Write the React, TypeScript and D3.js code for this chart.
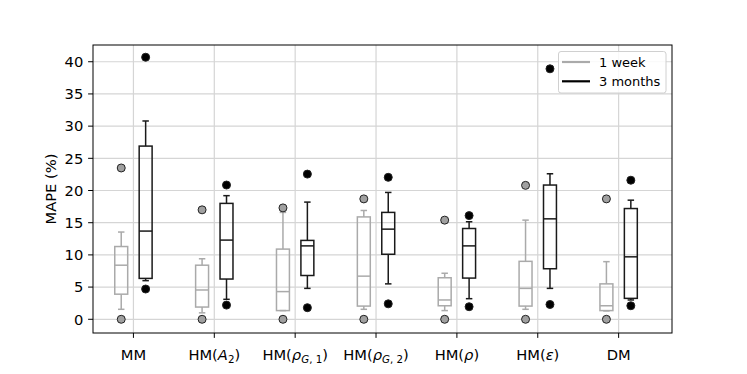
import React from "react";
import * as d3 from "d3";

const categories = ["MM", "HM(A2)", "HM(rhoG1)", "HM(rhoG2)", "HM(rho)", "HM(eps)", "DM"];
// [whiskerLow, q1, median, q3, whiskerHigh]
const weekStats = [
  [1.55, 3.9, 8.4, 11.3, 13.55],
  [1.0, 1.9, 4.55, 8.4, 9.4],
  [1.35, 1.35, 4.3, 10.9, 16.6],
  [1.55, 2.05, 6.7, 15.9, 16.9],
  [1.35, 2.1, 3.0, 6.45, 7.15],
  [1.55, 2.05, 4.8, 9.0, 15.4],
  [1.3, 1.35, 2.1, 5.5, 8.95],
];
const weekFliers = [
  [0, 23.5],
  [0, 17.0],
  [0, 17.3],
  [0, 18.7],
  [0, 15.4],
  [0, 20.8],
  [0, 18.7],
];
const monthStats = [
  [6.0, 6.35, 13.7, 26.9, 30.8],
  [3.1, 6.25, 12.3, 18.0, 19.2],
  [4.8, 6.8, 11.4, 12.25, 18.2],
  [5.5, 10.1, 14.0, 16.6, 19.7],
  [3.2, 6.4, 11.4, 14.1, 15.15],
  [4.8, 7.85, 15.6, 20.85, 22.6],
  [3.0, 3.25, 9.7, 17.2, 18.5],
];
const monthFliers = [
  [4.7, 40.7],
  [2.2, 20.85],
  [1.8, 22.55],
  [2.4, 22.05],
  [1.95, 16.1],
  [2.3, 38.9],
  [2.1, 21.6],
];
const yTicks = [0, 5, 10, 15, 20, 25, 30, 35, 40];
const seriesNames = ["1 week", "3 months"];

const W = 747, H = 374;
const left = 93, right = 672, top = 45, bottom = 333;
const FONT = "DejaVu Sans, sans-serif";
const FS = 14.7;
const LFS = 13;

function XLabel({ name }: { name: string }) {
  const sub = FS * 0.7;
  if (name === "MM" || name === "DM") return <tspan>{name}</tspan>;
  if (name === "HM(A2)")
    return (
      <>
        <tspan>HM(</tspan>
        <tspan fontStyle="italic">A</tspan>
        <tspan fontSize={sub} dy={3}>2</tspan>
        <tspan dy={-3}>)</tspan>
      </>
    );
  if (name === "HM(rhoG1)" || name === "HM(rhoG2)")
    return (
      <>
        <tspan>HM(</tspan>
        <tspan fontStyle="italic">ρ</tspan>
        <tspan fontSize={sub} dy={3} fontStyle="italic">G</tspan>
        <tspan fontSize={sub}>, {name === "HM(rhoG1)" ? "1" : "2"}</tspan>
        <tspan dy={-3}>)</tspan>
      </>
    );
  if (name === "HM(rho)")
    return (
      <>
        <tspan>HM(</tspan>
        <tspan fontStyle="italic">ρ</tspan>
        <tspan>)</tspan>
      </>
    );
  return (
    <>
      <tspan>HM(</tspan>
      <tspan fontStyle="italic">ε</tspan>
      <tspan>)</tspan>
    </>
  );
}

export default function App() {
  const x = d3.scaleLinear().domain([0.5, 7.66]).range([left, right]);
  const y = d3.scaleLinear().domain([-2.13, 42.6]).range([bottom, top]);
  const off = 0.151;
  const bw = 0.16;
  const grayC = "#aaaaaa";
  const blackC = "#1a1a1a";

  const renderBox = (
    s: number[],
    fl: number[],
    cx: number,
    color: string,
    flierFill: string,
    key: string
  ) => {
    const [wl, q1, med, q3, wh] = s;
    const xl = x(cx - bw / 2), xr = x(cx + bw / 2);
    const xc = x(cx);
    const capHalf = (xr - xl) / 4;
    return (
      <g key={key} stroke={color} strokeWidth={1.5} fill="none">
        <line x1={xc} x2={xc} y1={y(q3)} y2={y(wh)} />
        <line x1={xc} x2={xc} y1={y(q1)} y2={y(wl)} />
        <line x1={xc - capHalf} x2={xc + capHalf} y1={y(wh)} y2={y(wh)} />
        <line x1={xc - capHalf} x2={xc + capHalf} y1={y(wl)} y2={y(wl)} />
        <rect x={xl} y={y(q3)} width={xr - xl} height={y(q1) - y(q3)} />
        <line x1={xl} x2={xr} y1={y(med)} y2={y(med)} />
        {fl.map((v, i) => (
          <circle key={i} cx={xc} cy={y(v)} r={4} fill={flierFill} stroke="#222" strokeWidth={1} />
        ))}
      </g>
    );
  };

  return (
    <svg width={W} height={H} style={{ position: "absolute", left: 0, top: 0 }} fontFamily={FONT}>
      <rect width={W} height={H} fill="white" />
      {/* grid */}
      <g stroke="#d5d5d5" strokeWidth={1.2}>
        {yTicks.map((t) => (
          <line key={"gy" + t} x1={left} x2={right} y1={y(t)} y2={y(t)} />
        ))}
        {categories.map((c, i) => (
          <line key={"gx" + c} x1={x(i + 1)} x2={x(i + 1)} y1={top} y2={bottom} />
        ))}
      </g>
      {/* boxes */}
      {categories.map((c, i) => (
        <g key={c}>
          {renderBox(weekStats[i], weekFliers[i], i + 1 - off, grayC, "#a0a0a0", "w" + i)}
          {renderBox(monthStats[i], monthFliers[i], i + 1 + off, blackC, "#000000", "m" + i)}
        </g>
      ))}
      {/* frame */}
      <rect x={left} y={top} width={right - left} height={bottom - top} fill="none" stroke="#000" strokeWidth={1} />
      {/* y axis */}
      {yTicks.map((t) => (
        <g key={"yt" + t}>
          <line x1={left - 4.9} x2={left} y1={y(t)} y2={y(t)} stroke="#000" strokeWidth={1} />
          <text x={left - 9.7} y={y(t)} dy="0.36em" textAnchor="end" fontSize={FS} fill="#000">
            {t}
          </text>
        </g>
      ))}
      <text
        transform={`translate(${56},${(top + bottom) / 2}) rotate(-90)`}
        textAnchor="middle"
        fontSize={FS}
        fill="#000"
      >
        MAPE (%)
      </text>
      {/* x axis */}
      {categories.map((c, i) => (
        <g key={"xt" + c}>
          <line x1={x(i + 1)} x2={x(i + 1)} y1={bottom} y2={bottom + 4.9} stroke="#000" strokeWidth={1} />
          <text x={x(i + 1)} y={bottom + 27} textAnchor="middle" fontSize={FS} fill="#000">
            <XLabel name={c} />
          </text>
        </g>
      ))}
      {/* legend */}
      <g>
        <rect x={558.5} y={51.5} width={107.5} height={41.5} rx={2.5} fill="white" fillOpacity={0.85} stroke="#d0d0d0" strokeWidth={1} />
        {seriesNames.map((s, i) => (
          <g key={s}>
            <line x1={562} x2={590} y1={62 + i * 19.3} y2={62 + i * 19.3} stroke={i === 0 ? grayC : "#000"} strokeWidth={2.2} />
            <text x={599} y={62 + i * 19.3} dy="0.35em" fontSize={LFS} fill="#000">
              {s}
            </text>
          </g>
        ))}
      </g>
    </svg>
  );
}
